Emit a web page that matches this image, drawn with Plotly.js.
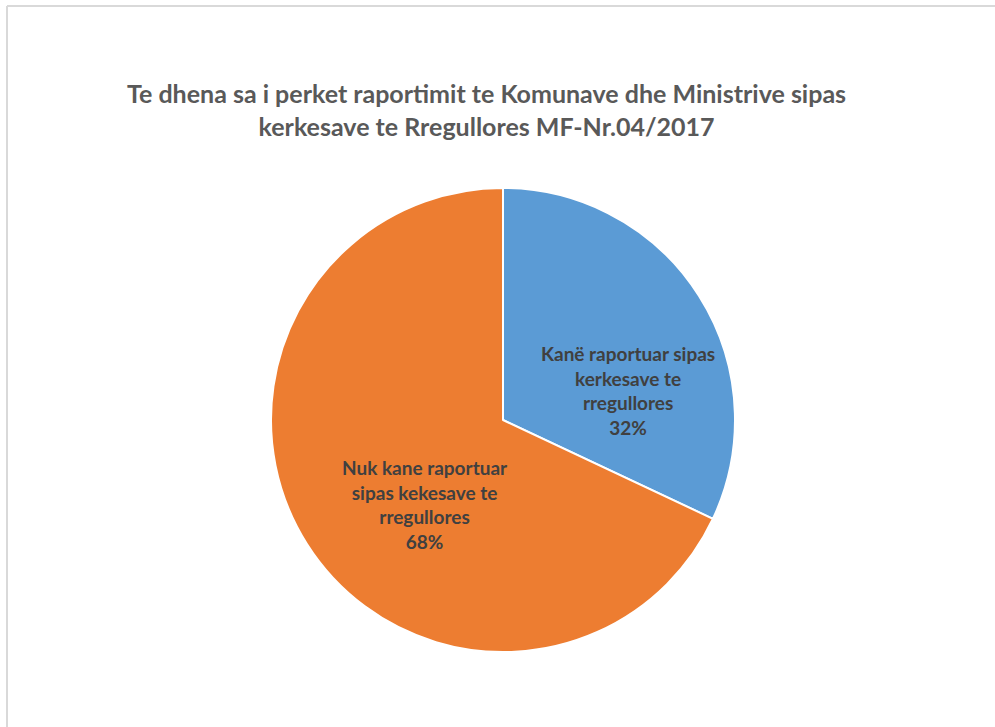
<!DOCTYPE html>
<html>
<head>
<meta charset="utf-8">
<script src="https://cdn.plot.ly/plotly-3.0.1.min.js"></script>
<style>
html,body{margin:0;padding:0;background:#fff;}
#chart{width:995px;height:727px;}
</style>
</head>
<body>
<div id="chart"></div>
<script>
const categories = ["Kanë raportuar sipas<br>kerkesave te<br>rregullores", "Nuk kane raportuar<br>sipas kekesave te<br>rregullores"];
const values = [32, 68];
const colors = ["#5B9BD5", "#ED7D31"];
const titleText = "Te dhena sa i perket raportimit te Komunave dhe Ministrive sipas<br>kerkesave te Rregullores MF-Nr.04/2017";

const W = 995, H = 727;
const cx = 503, cy = 420, r = 232;
// label anchor points (pixel), per slice
const labelPos = [[628, 390], [425, 505]];

const total = values.reduce((a, b) => a + b, 0);

const trace = {
  type: "pie",
  labels: categories,
  values: values,
  sort: false,
  direction: "clockwise",
  rotation: 0,
  marker: {colors: colors, line: {color: "#ffffff", width: 2}},
  textinfo: "none",
  hoverinfo: "label+percent",
  showlegend: false,
  domain: {x: [(cx - r) / W, (cx + r) / W], y: [(H - cy - r) / H, (H - cy + r) / H]}
};

const annotations = categories.map((c, i) => ({
  xref: "paper", yref: "paper",
  x: labelPos[i][0] / W, y: 1 - labelPos[i][1] / H,
  xanchor: "center", yanchor: "middle",
  showarrow: false,
  align: "center",
  text: "<b>" + c + "<br>" + Math.round(values[i] / total * 100) + "%</b>",
  font: {family: "Lato, sans-serif", size: 19, color: "#404040"}
}));

const layout = {
  width: W, height: H,
  margin: {l: 0, r: 0, t: 0, b: 0},
  paper_bgcolor: "#ffffff",
  title: {
    text: "<b>" + titleText + "</b>",
    font: {family: "Lato, sans-serif", size: 25, color: "#595959"},
    x: 0.489, xanchor: "center", y: 1 - 103 / H, yanchor: "middle"
  },
  annotations: annotations,
  shapes: [
    {type: "line", xref: "paper", yref: "paper", x0: 7 / W, x1: 7 / W, y0: 0, y1: 1 - 6 / H, line: {color: "#d9d9d9", width: 2}},
    {type: "line", xref: "paper", yref: "paper", x0: 7 / W, x1: 1, y0: 1 - 6 / H, y1: 1 - 6 / H, line: {color: "#d9d9d9", width: 2}}
  ]
};

Plotly.newPlot("chart", [trace], layout, {displayModeBar: false, staticPlot: true});
</script>
</body>
</html>
